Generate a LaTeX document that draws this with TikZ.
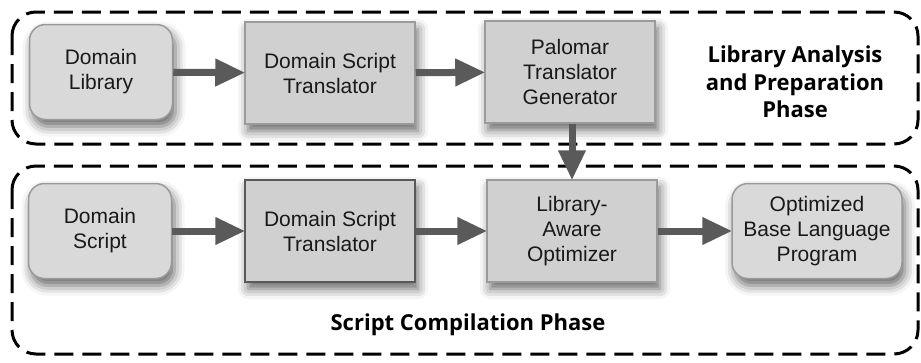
\documentclass[tikz,border=0pt]{standalone}
\usepackage{fontspec}
\setmainfont{Liberation Sans}
\newfontfamily\labfont{Open Sans}
\usetikzlibrary{arrows.meta,shadows.blur}
\definecolor{boxfill}{HTML}{D0D0D0}
\definecolor{roundfill}{HTML}{D9D9D9}
\definecolor{boxline}{HTML}{9A9A9A}
\definecolor{arrowcol}{HTML}{5A5A5A}
\tikzset{
  phase/.style={draw=black, line width=3pt, dash pattern=on 19pt off 9pt, rounded corners=24pt},
  sqbox/.style={draw=boxline, line width=1.5pt, fill=boxfill, minimum width=170pt, minimum height=102pt,
    align=center, font=\fontsize{21}{25}\selectfont, text=black!90,
    blur shadow={shadow xshift=3pt, shadow yshift=-7pt, shadow blur radius=10pt, shadow opacity=60}},
  rbox/.style={sqbox, fill=roundfill, rounded corners=16pt, minimum width=143pt, minimum height=95pt},
  flow/.style={draw=arrowcol, line width=7pt, -{Triangle[length=30pt,width=26pt]}, shorten >=-1pt},
  phaselabel/.style={font=\labfont\bfseries\fontsize{22}{27.5}\selectfont, align=center, text=black}
}
\begin{document}
\begin{tikzpicture}[x=1pt,y=-1pt]
\useasboundingbox (0,0) rectangle (921,362);
\draw[phase] (12,12) rectangle (918,144);
\draw[phase] (12,166) rectangle (918,354);
\node[rbox] (dl) at (101,72) {Domain\\Library};
\node[sqbox] (dst1) at (330,73) {Domain Script\\Translator};
\node[sqbox] (ptg) at (570,72) {Palomar\\Translator\\Generator};
\node[phaselabel] (lab1) at (795,82) {Library Analysis\\and Preparation\\Phase};
\node[rbox] (ds) at (100,231) {Domain\\Script};
\node[sqbox, draw=black!65] (dst2) at (330,231) {Domain Script\\Translator};
\node[sqbox] (lao) at (572,231) {Library-\\Aware\\Optimizer};
\node[rbox, minimum width=170pt] (obl) at (817,231) {Optimized\\Base Language\\Program};
\node[phaselabel] (lab2) at (468,325) {Script Compilation Phase};
\draw[flow] (dl) -- (dst1);
\draw[flow] (dst1) -- (ptg);
\draw[flow] (ptg.south -| lao.north) -- (lao.north);
\draw[flow] (ds) -- (dst2);
\draw[flow] (dst2) -- (lao);
\draw[flow] (lao) -- (obl);
\end{tikzpicture}
\end{document}
